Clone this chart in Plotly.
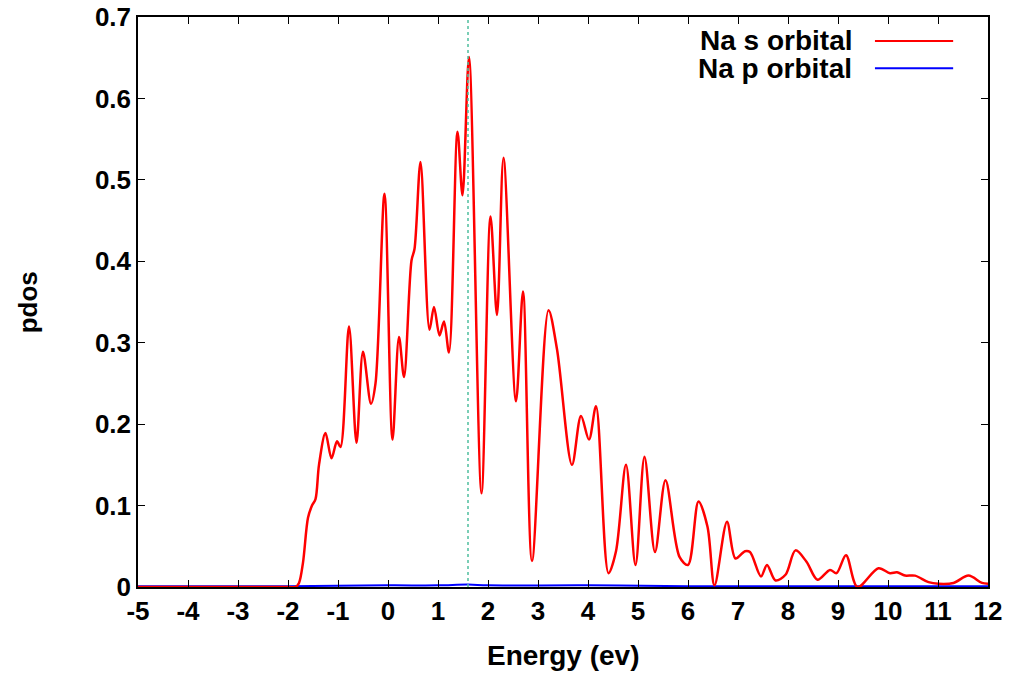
import plotly.graph_objects as go

# Na s orbital pdos
E_s = [-5.0, -2.0, -1.85, -1.78, -1.70, -1.60, -1.52, -1.45, -1.38, -1.25, -1.13, -1.02, -0.95,
       -0.78, -0.63, -0.50, -0.34, -0.25, -0.07, 0.09, 0.22, 0.32, 0.47, 0.53, 0.65, 0.83,
       0.92, 1.03, 1.12, 1.22, 1.39, 1.49, 1.62, 1.87, 2.05, 2.18, 2.31, 2.56, 2.70, 2.88,
       3.21, 3.38, 3.68, 3.86, 4.02, 4.16, 4.41, 4.56, 4.76, 4.95, 5.13, 5.34, 5.55, 5.83,
       6.00, 6.21, 6.39, 6.53, 6.78, 6.95, 7.14, 7.24, 7.46, 7.58, 7.75, 7.95, 8.15, 8.37,
       8.59, 8.84, 8.97, 9.16, 9.39, 9.81, 10.04, 10.18, 10.34, 10.54, 10.81, 11.01, 11.31,
       11.61, 11.88, 12.0]
dos_s = [0.0, 0.0, 0.0, 0.005, 0.03, 0.085, 0.100, 0.108, 0.150, 0.189, 0.158, 0.179, 0.172,
         0.320, 0.177, 0.289, 0.225, 0.250, 0.483, 0.181, 0.307, 0.258, 0.401, 0.415, 0.522, 0.316,
         0.344, 0.309, 0.326, 0.288, 0.559, 0.481, 0.651, 0.115, 0.455, 0.334, 0.527, 0.228, 0.363, 0.032,
         0.340, 0.292, 0.150, 0.210, 0.181, 0.222, 0.017, 0.044, 0.150, 0.027, 0.160, 0.043, 0.131, 0.037,
         0.027, 0.105, 0.074, 0.002, 0.080, 0.035, 0.044, 0.043, 0.013, 0.027, 0.008, 0.015, 0.045, 0.031,
         0.009, 0.021, 0.017, 0.039, 0.0, 0.023, 0.017, 0.018, 0.014, 0.014, 0.006, 0.004, 0.005,
         0.014, 0.005, 0.004]

# Na p orbital pdos
E_p = [-5.0, -2.0, 0.0, 1.0, 1.6, 2.0, 4.0, 6.0, 12.0]
dos_p = [0.001, 0.001, 0.002, 0.002, 0.003, 0.002, 0.002, 0.001, 0.001]

fermi = 1.6
x_ticks = list(range(-5, 13))
y_ticks = [0, 0.1, 0.2, 0.3, 0.4, 0.5, 0.6, 0.7]
legend_names = ["Na s orbital", "Na p orbital"]
colors = ["#ff0000", "#0000ff"]

FONT = "Liberation Sans, Arial, sans-serif"
FS = 26

fig = go.Figure()
fig.add_trace(go.Scatter(x=E_p, y=dos_p, mode="lines", line=dict(color=colors[1], width=2, shape="spline"),
                         name=legend_names[1], showlegend=False))
fig.add_trace(go.Scatter(x=E_s, y=dos_s, mode="lines",
                         line=dict(color=colors[0], width=2.5, shape="spline", smoothing=0.9),
                         name=legend_names[0], showlegend=False))

fig.add_shape(type="line", x0=fermi, x1=fermi, y0=0, y1=0.7, xref="x", yref="y",
              line=dict(color="#4fbf9f", width=1.5, dash="dot"))

# gnuplot-style legend: text then sample line
for i, (nm, c) in enumerate(zip(legend_names, colors)):
    yp = 0.958 - i * 0.048
    fig.add_annotation(x=0.842, y=yp, xref="paper", yref="paper", text="<b>%s</b>" % nm,
                       showarrow=False, xanchor="right", yanchor="middle",
                       font=dict(family=FONT, size=28, color="black"))
    fig.add_shape(type="line", x0=0.867, x1=0.959, y0=yp, y1=yp, xref="paper", yref="paper",
                  line=dict(color=c, width=2))

# axis titles
fig.add_annotation(x=0.5, y=-0.121, xref="paper", yref="paper", text="<b>Energy (ev)</b>",
                   showarrow=False, xanchor="center", yanchor="middle",
                   font=dict(family=FONT, size=28, color="black"))
fig.add_annotation(x=-0.129, y=0.5, xref="paper", yref="paper", text="<b>pdos</b>", textangle=-90,
                   showarrow=False, xanchor="center", yanchor="middle",
                   font=dict(family=FONT, size=FS, color="black"))

fig.update_layout(
    width=1015, height=674,
    margin=dict(l=138, r=27, t=17, b=87, autoexpand=False),
    plot_bgcolor="white", paper_bgcolor="white",
    font=dict(family=FONT, size=FS, color="black"),
    xaxis=dict(range=[-5, 12], tickvals=x_ticks, ticktext=["<b>%d</b>" % v for v in x_ticks],
               ticks="inside", ticklen=7, tickcolor="black", tickwidth=1,
               showline=True, linecolor="black", linewidth=1.5, mirror="allticks",
               showgrid=False, zeroline=False, automargin=False),
    yaxis=dict(range=[0, 0.7], tickvals=y_ticks, ticktext=["<b>%g</b>" % v for v in y_ticks],
               ticks="inside", ticklen=7, tickcolor="black", tickwidth=1,
               showline=True, linecolor="black", linewidth=1.5, mirror="allticks",
               showgrid=False, zeroline=False, automargin=False),
)

fig.write_html("out.html")
